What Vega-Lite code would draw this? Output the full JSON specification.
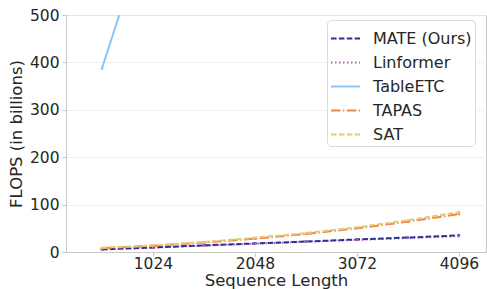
{
  "$schema": "https://vega.github.io/schema/vega-lite/v6.json",
  "width": 420,
  "height": 237,
  "autosize": {"type": "none"},
  "padding": {"left": 66, "top": 15, "right": 1, "bottom": 37},
  "config": {
    "font": "DejaVu Sans",
    "view": {"stroke": "#c8c8c8", "strokeWidth": 1},
    "axis": {
      "labelFont": "DejaVu Sans",
      "titleFont": "DejaVu Sans",
      "labelFontSize": 15.5,
      "titleFontSize": 16.5,
      "labelColor": "#262626",
      "titleColor": "#262626",
      "titleFontWeight": "normal",
      "domainColor": "#c8c8c8",
      "tickColor": "#c8c8c8",
      "tickSize": 4,
      "gridColor": "#ebebeb",
      "gridWidth": 0.8
    },
    "legend": {
      "title": null,
      "orient": "none",
      "legendX": 261,
      "legendY": 5,
      "symbolType": "stroke",
      "symbolSize": 841,
      "symbolStrokeWidth": 2,
      "symbolOpacity": 1,
      "labelFontSize": 16,
      "labelFont": "DejaVu Sans",
      "labelColor": "#262626",
      "labelOffset": 12,
      "rowPadding": -4.25,
      "padding": 3,
      "fillColor": "rgba(255,255,255,0.85)",
      "strokeColor": "#d9d9d9",
      "cornerRadius": 4
    }
  },
  "data": {
    "values": [
      {"len": 512, "model": "MATE (Ours)", "flops": 5.5},
      {"len": 1024, "model": "MATE (Ours)", "flops": 9.5},
      {"len": 1536, "model": "MATE (Ours)", "flops": 14},
      {"len": 2048, "model": "MATE (Ours)", "flops": 18},
      {"len": 2560, "model": "MATE (Ours)", "flops": 22},
      {"len": 3072, "model": "MATE (Ours)", "flops": 26.5},
      {"len": 3584, "model": "MATE (Ours)", "flops": 30.5},
      {"len": 4096, "model": "MATE (Ours)", "flops": 35},
      {"len": 512, "model": "Linformer", "flops": 5.3},
      {"len": 1024, "model": "Linformer", "flops": 9.3},
      {"len": 1536, "model": "Linformer", "flops": 13.5},
      {"len": 2048, "model": "Linformer", "flops": 17.5},
      {"len": 2560, "model": "Linformer", "flops": 21.5},
      {"len": 3072, "model": "Linformer", "flops": 25.5},
      {"len": 3584, "model": "Linformer", "flops": 29.5},
      {"len": 4096, "model": "Linformer", "flops": 33.5},
      {"len": 512, "model": "TableETC", "flops": 387},
      {"len": 1024, "model": "TableETC", "flops": 720},
      {"len": 512, "model": "TAPAS", "flops": 8},
      {"len": 1024, "model": "TAPAS", "flops": 13},
      {"len": 1536, "model": "TAPAS", "flops": 20},
      {"len": 2048, "model": "TAPAS", "flops": 28},
      {"len": 2560, "model": "TAPAS", "flops": 38},
      {"len": 3072, "model": "TAPAS", "flops": 50},
      {"len": 3584, "model": "TAPAS", "flops": 64},
      {"len": 4096, "model": "TAPAS", "flops": 80},
      {"len": 512, "model": "SAT", "flops": 9},
      {"len": 1024, "model": "SAT", "flops": 14},
      {"len": 1536, "model": "SAT", "flops": 21},
      {"len": 2048, "model": "SAT", "flops": 30},
      {"len": 2560, "model": "SAT", "flops": 40},
      {"len": 3072, "model": "SAT", "flops": 52},
      {"len": 3584, "model": "SAT", "flops": 67},
      {"len": 4096, "model": "SAT", "flops": 84}
    ]
  },
  "encoding": {
    "x": {
      "field": "len", "type": "quantitative",
      "scale": {"domain": [151, 4368], "nice": false, "zero": false},
      "axis": {"values": [1024, 2048, 3072, 4096], "format": "d", "grid": false, "title": "Sequence Length", "titlePadding": 1, "labelPadding": 0}
    },
    "y": {
      "field": "flops", "type": "quantitative",
      "scale": {"domain": [0, 500], "nice": false},
      "axis": {"values": [0, 100, 200, 300, 400, 500], "grid": true, "title": "FLOPS (in billions)", "titlePadding": 5, "labelPadding": 3}
    },
    "color": {
      "field": "model", "type": "nominal",
      "scale": {
        "domain": ["MATE (Ours)", "Linformer", "TableETC", "TAPAS", "SAT"],
        "range": ["#2b3190", "#b862bb", "#8cc4fa", "#f5824c", "#e3ca74"]
      }
    },
    "strokeDash": {
      "field": "model", "type": "nominal",
      "scale": {
        "domain": ["MATE (Ours)", "Linformer", "TableETC", "TAPAS", "SAT"],
        "range": [[5.5, 2.4], [1.5, 2.5], [1, 0], [9.5, 2.4, 1.5, 2.4], [5.5, 2.4]]
      }
    }
  },
  "layer": [
    {
      "transform": [{"filter": "datum.model === 'TableETC'"}],
      "mark": {"type": "line", "clip": true, "strokeWidth": 2}
    },
    {
      "transform": [{"filter": "datum.model === 'Linformer'"}],
      "mark": {"type": "line", "clip": true, "strokeWidth": 2}
    },
    {
      "transform": [{"filter": "datum.model === 'MATE (Ours)'"}],
      "mark": {"type": "line", "clip": true, "strokeWidth": 2}
    },
    {
      "transform": [{"filter": "datum.model === 'TAPAS'"}],
      "mark": {"type": "line", "clip": true, "strokeWidth": 2}
    },
    {
      "transform": [{"filter": "datum.model === 'SAT'"}],
      "mark": {"type": "line", "clip": true, "strokeWidth": 2}
    },
    {
      "mark": {"type": "point", "filled": true, "size": 7, "clip": true, "opacity": 1},
      "encoding": {"strokeDash": {"value": [1, 0]}}
    }
  ]
}
